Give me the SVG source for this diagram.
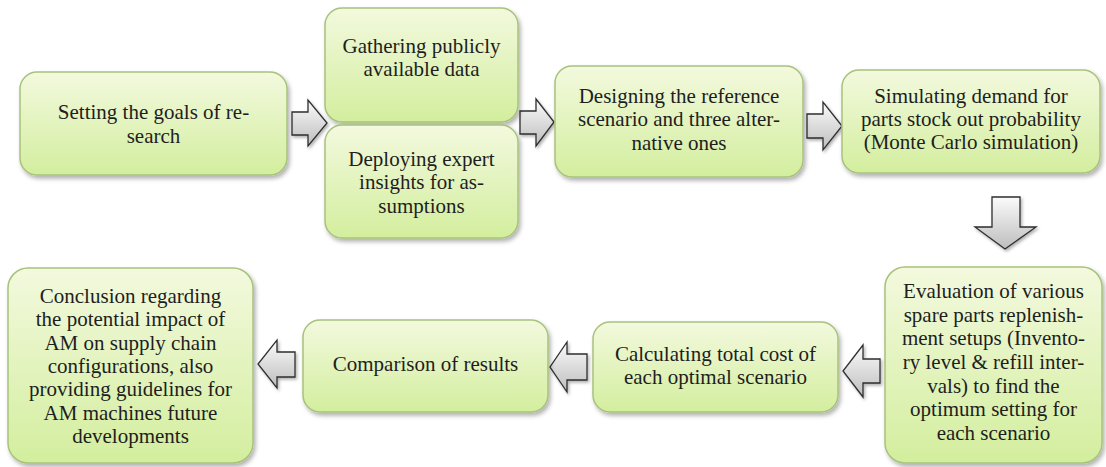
<svg xmlns="http://www.w3.org/2000/svg" width="1106" height="467" viewBox="0 0 1106 467">
<defs>
<linearGradient id="boxGrad" x1="0" y1="0" x2="0" y2="1">
<stop offset="0" stop-color="#f3f9de"/>
<stop offset="1" stop-color="#d3ee9e"/>
</linearGradient>
<linearGradient id="arrGrad" x1="0" y1="0" x2="0" y2="1">
<stop offset="0" stop-color="#fbfbfb"/>
<stop offset="1" stop-color="#bdbdbd"/>
</linearGradient>
<filter id="shadow" x="-10%" y="-10%" width="125%" height="130%">
<feDropShadow dx="2" dy="3" stdDeviation="2" flood-color="#000" flood-opacity="0.3"/>
</filter>
<filter id="ashadow" x="-20%" y="-20%" width="150%" height="150%">
<feDropShadow dx="1.5" dy="2" stdDeviation="1.5" flood-color="#000" flood-opacity="0.3"/>
</filter>
</defs>
<style>
.box{fill:url(#boxGrad);stroke:#a8c27c;stroke-width:1.5;filter:url(#shadow)}
.arr{fill:url(#arrGrad);stroke:#2e2e2e;stroke-width:1.3;stroke-linejoin:miter;filter:url(#ashadow)}
.t{font-family:'Liberation Serif','Times New Roman','DejaVu Serif',serif;font-size:21px;fill:#1e1e1e;text-anchor:middle}
</style>
<rect width="1106" height="467" fill="#ffffff"/>

<g id="connectors">
<path class="arr" d="M292,112 L308,112 L308,100 L327,123 L308,146 L308,135 L292,135 Z"/>
<path class="arr" d="M520,111 L536,111 L536,99 L554,122 L536,146 L536,134 L520,134 Z"/>
<path class="arr" d="M807,114 L823,114 L823,102 L842,126 L823,150 L823,138 L807,138 Z"/>
<path class="arr" d="M992,197 L1020,197 L1020,227 L1036,227 L1005,249 L975,227 L992,227 Z"/>
<path class="arr" d="M880,359 L863,359 L863,345 L843,371 L863,397 L863,383 L880,383 Z"/>
<path class="arr" d="M587,354 L567,354 L567,342 L550,367 L567,392 L567,380 L587,380 Z"/>
<path class="arr" d="M295,352 L277,352 L277,340 L258,364 L277,388 L277,377 L295,377 Z"/>
</g>

<g id="node-goals" class="t" font-family="Liberation Serif, Times New Roman, serif">
<rect class="box" x="20" y="72" width="267" height="103" rx="17"/>
<text x="153.5" y="119">Setting the goals of re-</text>
<text x="153.5" y="143">search</text>
</g>

<g id="node-gathering" class="t" font-family="Liberation Serif, Times New Roman, serif">
<rect class="box" x="325" y="8" width="193" height="114" rx="17"/>
<text x="421.5" y="53">Gathering publicly</text>
<text x="421.5" y="76">available data</text>
</g>

<g id="node-deploying" class="t" font-family="Liberation Serif, Times New Roman, serif">
<rect class="box" x="325" y="125" width="193" height="113" rx="17"/>
<text x="421.5" y="166">Deploying expert</text>
<text x="421.5" y="189">insights for as-</text>
<text x="421.5" y="213">sumptions</text>
</g>

<g id="node-designing" class="t" font-family="Liberation Serif, Times New Roman, serif">
<rect class="box" x="555" y="66" width="248" height="111" rx="17"/>
<text x="679" y="103">Designing the reference</text>
<text x="679" y="126">scenario and three alter-</text>
<text x="679" y="150">native ones</text>
</g>

<g id="node-simulating" class="t" font-family="Liberation Serif, Times New Roman, serif">
<rect class="box" x="842" y="70" width="258" height="103" rx="17"/>
<text x="971" y="103">Simulating demand for</text>
<text x="971" y="126">parts stock out probability</text>
<text x="971" y="149">(Monte Carlo simulation)</text>
</g>

<g id="node-evaluation" class="t" font-family="Liberation Serif, Times New Roman, serif">
<rect class="box" x="885" y="267" width="217" height="196" rx="20"/>
<text x="993.5" y="298">Evaluation of various</text>
<text x="993.5" y="322">spare parts replenish-</text>
<text x="993.5" y="345">ment setups (Invento-</text>
<text x="993.5" y="369">ry level &amp; refill inter-</text>
<text x="993.5" y="393">vals) to find the</text>
<text x="993.5" y="416">optimum setting for</text>
<text x="993.5" y="440">each scenario</text>
</g>

<g id="node-calculating" class="t" font-family="Liberation Serif, Times New Roman, serif">
<rect class="box" x="593" y="322" width="245" height="90" rx="17"/>
<text x="715.5" y="361">Calculating total cost of</text>
<text x="715.5" y="384">each optimal scenario</text>
</g>

<g id="node-comparison" class="t" font-family="Liberation Serif, Times New Roman, serif">
<rect class="box" x="303" y="320" width="245" height="92" rx="17"/>
<text x="425.5" y="371">Comparison of results</text>
</g>

<g id="node-conclusion" class="t" font-family="Liberation Serif, Times New Roman, serif">
<rect class="box" x="8" y="268" width="245" height="195" rx="20"/>
<text x="130.5" y="303">Conclusion regarding</text>
<text x="130.5" y="326">the potential impact of</text>
<text x="130.5" y="350">AM on supply chain</text>
<text x="130.5" y="373">configurations, also</text>
<text x="130.5" y="396">providing guidelines for</text>
<text x="130.5" y="420">AM machines future</text>
<text x="130.5" y="443">developments</text>
</g>
</svg>
